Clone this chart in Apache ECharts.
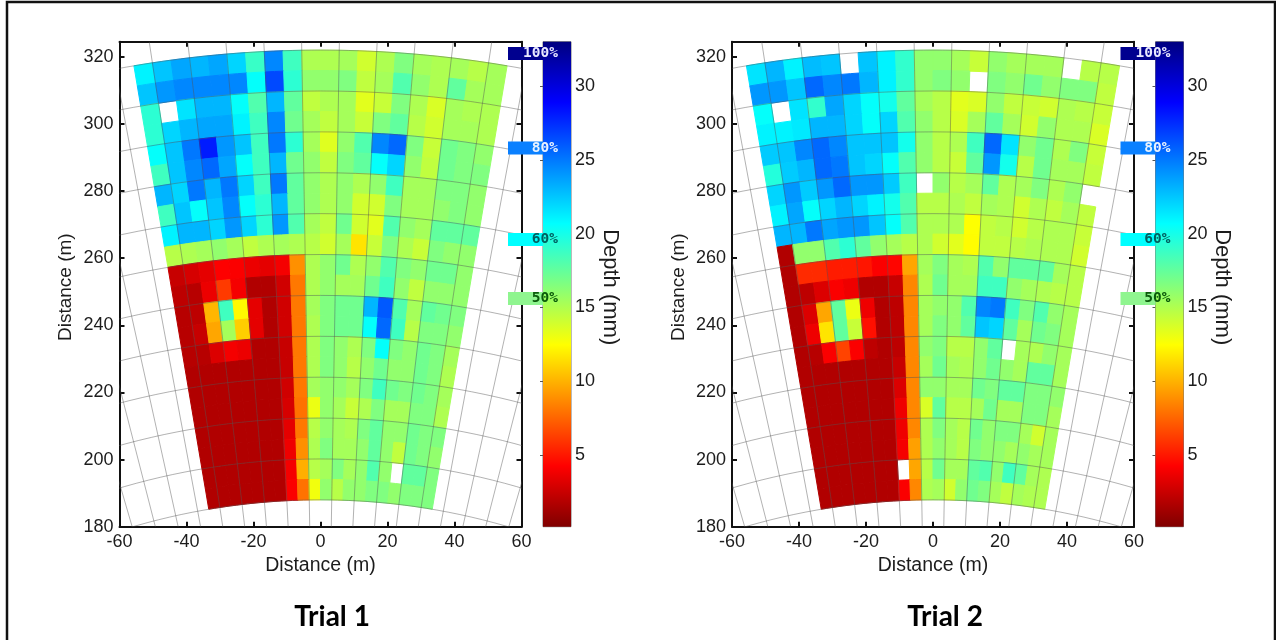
<!DOCTYPE html>
<html>
<head>
<meta charset="utf-8">
<style>html,body{margin:0;padding:0;background:#fff}#c{width:1276px;height:640px}</style>
<script src="https://cdn.jsdelivr.net/npm/echarts@6/dist/echarts.min.js"></script>
</head>
<body>
<div id="c"></div>
<script>
// Depth (mm): rows run from far range (top) to near range, columns left to right. null = no data.
var trial1Rows = [
[21,22.5,23.5,23,23.5,22,18.8,24.5,18.6,15,15,15.3,13.9,15,16.5,15.3,15,15.3,14.7,15.3],
[22.5,24,24.5,24.5,24.5,24.5,20.5,26.5,19.2,15.9,15.9,16.5,14.4,15.3,18,15.9,15,17.5,15.3,15.3],
[19.2,null,21.5,23,23,20.5,18,23,17.5,14.4,15,15.3,13.3,14.2,16.5,15,13.6,15.3,15,15],
[19.2,22,23,23.5,23.5,21,18.6,24.5,17,15.3,14.4,15.3,14.2,16.5,17.5,14.7,13.9,15.3,15.3,15],
[20.5,22.5,25,28,24,22.5,18.6,25,19.2,15.3,13.4,15.9,18,24.5,25.5,16.5,14.2,17,16.5,15.9],
[18.6,22.5,24.5,25.5,23.5,20.5,18.6,23,17,15.9,14.4,16.5,17.5,20.5,22,15.9,14.4,17,16.5,16.5],
[23,22,25,23,25,22,18.6,25,17.5,15.9,15,15.9,15,15.9,18.6,15.3,15.3,16.5,16.5,15.9],
[18.6,22.5,20.5,22.5,24.5,20.5,19.2,23,17.5,15.9,15,15.9,13.9,13.9,16.5,15.3,15.3,15.9,16.5,15.9],
[21,23,23,22,24,22,19.2,24,18,15.3,14.4,17,13.9,13.3,18,15.9,15.3,17.5,17.5,17.5],
[14.7,15,15.3,15.9,15.3,14.4,15,15.3,15,14.7,13.9,15.3,11.5,14.2,16.5,15,14.2,16.5,15.9,15.9],
[2.3,2.8,3.3,4.1,4,3.5,3.3,3.8,8.8,15,15.9,17,15,15.9,18,16.5,15.9,17,17,15.9],
[2,1.8,3.5,6,3.8,1.6,1.6,2.6,8,15,15.9,15.3,15.3,17,18.6,15.9,14.4,15.9,15.9,15.9],
[1.8,2,10,18.6,12.2,3.3,1.6,2.6,8,15.3,16.5,17,17,23,26,18,15.3,17.5,17,16.5],
[1.8,2.3,9.5,15.3,10.8,3.3,1.6,2.6,8,15,16.5,17,17,20.5,25.5,18.6,14.7,16.5,16.5,15.9],
[1.8,1.8,3,3.8,3.5,1.6,1.6,2.3,8,15,16.5,15.9,15,16.5,20.5,16.5,15.9,17,16.5,15.3],
[1.6,1.6,1.6,1.6,1.6,1.6,1.6,2.3,8,15,16.5,15.9,14.7,15.9,17,15.9,15.9,17,16.5,15],
[1.6,1.6,1.6,1.6,1.6,1.6,1.6,2.6,8,15.3,15.9,15.9,15.3,16.5,18.6,17,16.5,17,16.5,15.3],
[1.6,1.6,1.6,1.6,1.6,1.6,1.6,2.8,7.8,13,15.9,15.3,14.2,15,16.5,15.3,15.3,16.5,16.5,15],
[1.6,1.6,1.6,1.6,1.6,1.6,1.6,3.3,8,14.7,15.9,15.3,15,16.5,17.5,15.9,15.9,17,16.5,16.5],
[1.6,1.6,1.6,1.6,1.6,1.6,1.6,3.6,8.8,15,16.5,15.3,15.3,15.9,17.5,15.9,14.4,17,16.5,15.9],
[1.6,1.6,1.6,1.6,1.6,1.6,1.6,3.8,9.8,14.7,15.3,16.5,15.3,15.9,18,15.9,null,17.5,17.5,16.5],
[1.6,1.6,1.6,1.6,1.6,1.6,1.6,4,7.8,12.8,15.9,14.7,15.9,15.9,16.5,16.5,15.9,16.5,16.5,16.5]
];
var trial2Rows = [
[21.5,23,21,22.8,22.5,null,22.5,21,19,15.9,15.9,15.3,14.2,15.9,15.3,15.3,15.3,null,14.7,14.7],
[24,24,22.5,25.5,24.5,25,23,21,19,15.9,16.5,15.9,null,16.5,15.9,17,15.9,16.5,16.5,14.4],
[20.5,null,21.5,19,23.5,22,20.5,20,17.5,15.3,14.7,13.3,13.6,15.9,14.4,14.2,13.9,15,14.7,14.2],
[21,21,21.3,23,23,22,20.5,22,18,15.9,14.7,13.6,15.3,17.5,15.3,13.9,15.9,15,15,13.6],
[22.3,22.5,24.5,25.5,24.5,22.5,22.5,22.5,20,15.9,14.7,15,18.6,25.5,21.5,15.9,17,15,16.5,14.2],
[19.5,22.3,23,25.5,25,22.5,22,20.5,18,15.9,14.7,14.2,17.5,24,20,14.7,17,15.3,15.3,14.4],
[22,24,22.3,24,25.5,24,24,22.3,18.6,null,15.9,14.7,15.3,17.5,15,15.3,16.5,15,15.9,null],
[21,23.5,20.5,22,23,22,21,20,18,14.7,14.7,15,14.4,15.3,15,13.9,15,14.4,15.3,14.4],
[23,23,25,23.5,24,24,22.5,20.5,18,15,15,15,12.4,14.4,14.7,13.9,14.7,15,15,14.2],
[1.6,15.9,15.9,18,19.2,17.5,15.9,15.3,14.7,15,13.9,13.3,12.3,14.4,14.4,14.7,15,15,15,13.9],
[1.6,5.5,5.5,5,5,4.8,4,4.3,9.5,15.3,16.5,15.3,15,18,15.9,17.5,17.5,17.5,15.3,14.7],
[1.6,2,3,4,3.6,1.6,1.6,2.3,8.5,15,17,15.3,15.3,18.6,18.6,15.9,15.3,15,14.7,14.7],
[1.6,3,9.5,17.5,13,3.6,1.6,2,8.5,15.3,15.9,15.9,18,24.5,25,18.6,16.5,18,15.9,15.3],
[1.6,3.6,11.5,17.5,14.2,4.6,1.6,2,8.5,15.3,16.5,15.9,17.5,22.5,22,17.5,15.3,17,16.5,15.3],
[1.6,1.8,4,6.3,4,2,1.6,2,8.5,15.9,16.5,14.7,14.7,15.9,17.5,null,15.3,15,15.9,15.3],
[1.6,1.6,1.6,1.6,1.6,1.6,1.6,2.3,8.5,15.3,17,15.3,15,15.9,17,15.9,15.3,17.5,17.5,15.3],
[1.6,1.6,1.6,1.6,1.6,1.6,1.6,3,8.5,15.9,15.9,15.3,15.3,17,16.5,17.5,17.5,16.5,16.5,15.9],
[1.6,1.6,1.6,1.6,1.6,1.6,1.6,3.6,8.5,13.6,17.5,14.7,14.7,15.3,17,15.3,15.3,16.5,16.5,15.3],
[1.6,1.6,1.6,1.6,1.6,1.6,1.6,3.6,8.5,15,16.5,15.3,14.7,17,15.9,16.5,16.5,15.3,13.9,15.3],
[1.6,1.6,1.6,1.6,1.6,1.6,1.6,3.8,9.3,15,15.9,15.3,14.7,16.5,15.9,15.9,15.3,15.9,15.3,15.3],
[1.6,1.6,1.6,1.6,1.6,1.6,1.6,null,9.5,14.7,17,15.3,15.3,17.5,18,15.9,18.6,17.5,15.3,15],
[1.6,1.6,1.6,1.6,1.6,1.6,1.6,4,8.5,15,15.3,13.9,15.9,17,16.5,15.3,14.4,15.3,15,15]
];
var xTicks = [-60,-40,-20,0,20,40,60];
var yTicks = [180,200,220,240,260,280,300,320];
var barTicks = [5,10,15,20,25,30];
var titles = ['Trial 1','Trial 2'];
var tagLabels = ['100%','80%','60%','50%'];
var tagValues = [32.2,25.8,19.6,15.6];
var tagFill = ['#00008f','#0a80ff','#00ffff','#8ff58f'];
var tagText = ['#e8e8ff','#e8f2ff','#006060','#0a5a0a'];
var barStops = [[0,'#800000'],[4.125,'#ff0000'],[12.375,'#ffff00'],[20.625,'#00ffff'],[28.875,'#0000ff'],[33,'#000080']];

// Sector geometry (metres, degrees)
var originY = -12, rTop = 334, rBottom = 200, halfAngle = 9.6;
var nRows = trial1Rows.length, nCols = trial1Rows[0].length;
var dR = (rTop - rBottom) / nRows, dA = 2 * halfAngle / nCols;
var depthMin = 0.15, depthMax = 33;

function polar(r, deg) {
  var a = deg * Math.PI / 180;
  return [r * Math.sin(a), originY + r * Math.cos(a)];
}
function jet(v) {
  var t = 1 - v / depthMax, c = function (x) { return Math.round(255 * Math.max(0, Math.min(1, x))); };
  return 'rgb(' + c(1.5 - Math.abs(4 * t - 3)) + ',' + c(1.5 - Math.abs(4 * t - 2)) + ',' + c(1.5 - Math.abs(4 * t - 1)) + ')';
}
function cellData(rows) {
  var out = [];
  rows.forEach(function (row, r) {
    row.forEach(function (v, c) { if (v !== null) out.push([c, r, v]); });
  });
  return out;
}
function renderCell(params, api) {
  var c = api.value(0), r = api.value(1), v = api.value(2);
  var r1 = rTop - r * dR, r2 = r1 - dR, a1 = -halfAngle + c * dA, a2 = a1 + dA;
  var pts = [[r1, a1], [r1, (a1 + a2) / 2], [r1, a2], [r2, a2], [r2, (a1 + a2) / 2], [r2, a1]].map(function (p) {
    return api.coord(polar(p[0], p[1]));
  });
  var col = jet(v);
  return { type: 'polygon', shape: { points: pts }, style: { fill: col, stroke: col, lineWidth: 1 } };
}
function gridLineData() {
  var out = [], k, s;
  for (k = 0; rTop - k * 2 * dR >= rBottom - 0.01; k++) out.push(['arc', rTop - k * 2 * dR]);
  for (s = -1; s <= 1; s += 2) for (k = 0; k < 11; k++) out.push(['ray', s * (dA + 2 * dA * k)]);
  return out;
}
var gridKinds = gridLineData();
function renderGridLine(params, api) {
  var item = gridKinds[params.dataIndex], pts = [], i;
  if (item[0] === 'arc') {
    for (i = -30; i <= 30; i += 1) pts.push(api.coord(polar(item[1], i)));
  } else {
    pts.push(api.coord(polar(120, item[1])));
    pts.push(api.coord(polar(400, item[1])));
  }
  return { type: 'polyline', shape: { points: pts }, style: { fill: null, stroke: 'rgba(85,85,85,0.45)', lineWidth: 1 } };
}
function renderBar(params, api) {
  var a = api.coord([0, depthMax]), b = api.coord([1, depthMin]);
  return {
    type: 'rect', shape: { x: a[0], y: a[1], width: b[0] - a[0], height: b[1] - a[1] },
    style: {
      fill: new echarts.graphic.LinearGradient(0, 1, 0, 0, barStops.map(function (s) {
        return { offset: s[0] / depthMax, color: s[1] };
      }))
    }
  };
}
function renderTag(params, api) {
  var i = params.dataIndex, p = api.coord([0, api.value(1)]);
  return {
    type: 'group', children: [
      { type: 'rect', shape: { x: p[0] - 35, y: p[1] - 6.5, width: 35, height: 13 }, style: { fill: tagFill[i] } },
      { type: 'text', style: { x: p[0] + 15, y: p[1], text: tagLabels[i], align: 'right', verticalAlign: 'middle', fill: tagText[i], font: 'bold 14.5px "DejaVu Sans Mono"' } }
    ]
  };
}

var fontFam = '"Liberation Sans", Arial, sans-serif', inkCol = '#1c1c1c';
var offset = 612.5, plotLeft = 119.5, plotW = 402, plotTop = 41.7, plotH = 485, barLeft = 543, barW = 28;
var grids = [], xAxes = [], yAxes = [], series = [], titleOpt = [];
var axisLine = { show: true, onZero: false, lineStyle: { color: '#111', width: 2 } };
function tick(vals) { return { show: true, inside: true, length: 5, customValues: vals, lineStyle: { color: '#111', width: 2 } }; }
[trial1Rows, trial2Rows].forEach(function (rows, n) {
  var dx = n * offset, g0 = grids.length;
  grids.push({ left: plotLeft + dx, top: plotTop, width: plotW, height: plotH, containLabel: false });
  grids.push({ left: barLeft + dx, top: plotTop, width: barW, height: plotH, show: true, borderColor: '#777', borderWidth: 1, backgroundColor: 'transparent' });
  var xIdx = xAxes.length, yIdx = yAxes.length;
  xAxes.push({
    type: 'value', gridIndex: g0, min: -60, max: 60, interval: 20, position: 'bottom',
    axisLine: axisLine, axisTick: tick(xTicks), splitLine: { show: false },
    axisLabel: { customValues: xTicks, color: inkCol, fontSize: 18, fontFamily: fontFam, margin: 6, formatter: function (v) { return v; } },
    name: 'Distance (m)', nameLocation: 'middle', nameGap: 28, nameTextStyle: { color: inkCol, fontSize: 19.5, fontFamily: fontFam }
  });
  xAxes.push({
    type: 'value', gridIndex: g0, min: -60, max: 60, interval: 20, position: 'top',
    axisLine: axisLine, axisTick: tick(xTicks), axisLabel: { show: false }, splitLine: { show: false }
  });
  xAxes.push({ type: 'value', gridIndex: g0 + 1, min: 0, max: 1, show: false, splitLine: { show: false } });
  yAxes.push({
    type: 'value', gridIndex: g0, min: 180, max: 324.5, interval: 20, position: 'left',
    axisLine: axisLine, axisTick: tick(yTicks), splitLine: { show: false },
    axisLabel: { customValues: yTicks, color: inkCol, fontSize: 18, fontFamily: fontFam, margin: 6 },
    name: 'Distance (m)', nameLocation: 'middle', nameGap: 44, nameTextStyle: { color: inkCol, fontSize: 19, fontFamily: fontFam, padding: [0, 6, 0, 0] }
  });
  yAxes.push({
    type: 'value', gridIndex: g0, min: 180, max: 324.5, interval: 20, position: 'right',
    axisLine: axisLine, axisTick: tick(yTicks), axisLabel: { show: false }, splitLine: { show: false }
  });
  yAxes.push({
    type: 'value', gridIndex: g0 + 1, min: depthMin, max: depthMax, position: 'right',
    axisLine: { show: false }, axisTick: { show: true, inside: true, length: 3, customValues: barTicks, lineStyle: { color: '#555' } },
    splitLine: { show: false },
    axisLabel: { customValues: barTicks, color: inkCol, fontSize: 18, fontFamily: fontFam, margin: 4 },
    name: 'Depth (mm)', nameLocation: 'middle', nameRotate: -90, nameGap: 37, nameTextStyle: { color: inkCol, fontSize: 22, fontFamily: fontFam, padding: [0, 0, 0, 6], verticalAlign: 'middle' }
  });
  series.push({ type: 'custom', name: titles[n] + ' depth', xAxisIndex: xIdx, yAxisIndex: yIdx, renderItem: renderCell, data: cellData(rows), clip: true, z: 2, silent: true });
  series.push({ type: 'custom', name: titles[n] + ' grid', xAxisIndex: xIdx, yAxisIndex: yIdx, renderItem: renderGridLine, data: gridKinds.map(function (g, i) { return [i]; }), clip: true, z: 3, silent: true });
  series.push({ type: 'custom', name: titles[n] + ' colour bar', xAxisIndex: xIdx + 2, yAxisIndex: yIdx + 2, renderItem: renderBar, data: [[0, 1]], z: 2, silent: true });
  series.push({ type: 'custom', name: titles[n] + ' tags', xAxisIndex: xIdx + 2, yAxisIndex: yIdx + 2, renderItem: renderTag, data: tagValues.map(function (v) { return [0, v]; }), z: 6, silent: true });
  titleOpt.push({ text: titles[n], left: 327 + n * 613, top: 598, textAlign: 'center', textStyle: { fontFamily: 'Lato, sans-serif', fontWeight: 'bold', fontSize: 28, color: '#000' } });
});

var chart = echarts.init(document.getElementById('c'), null, { renderer: 'canvas' });
chart.setOption({
  animation: false,
  backgroundColor: '#fff',
  title: titleOpt,
  grid: grids, xAxis: xAxes, yAxis: yAxes, series: series,
  graphic: [{ type: 'rect', shape: { x: 7, y: 2, width: 1268, height: 660 }, style: { fill: null, stroke: '#111', lineWidth: 2.5 }, z: 10, silent: true }]
});
</script>
</body>
</html>
